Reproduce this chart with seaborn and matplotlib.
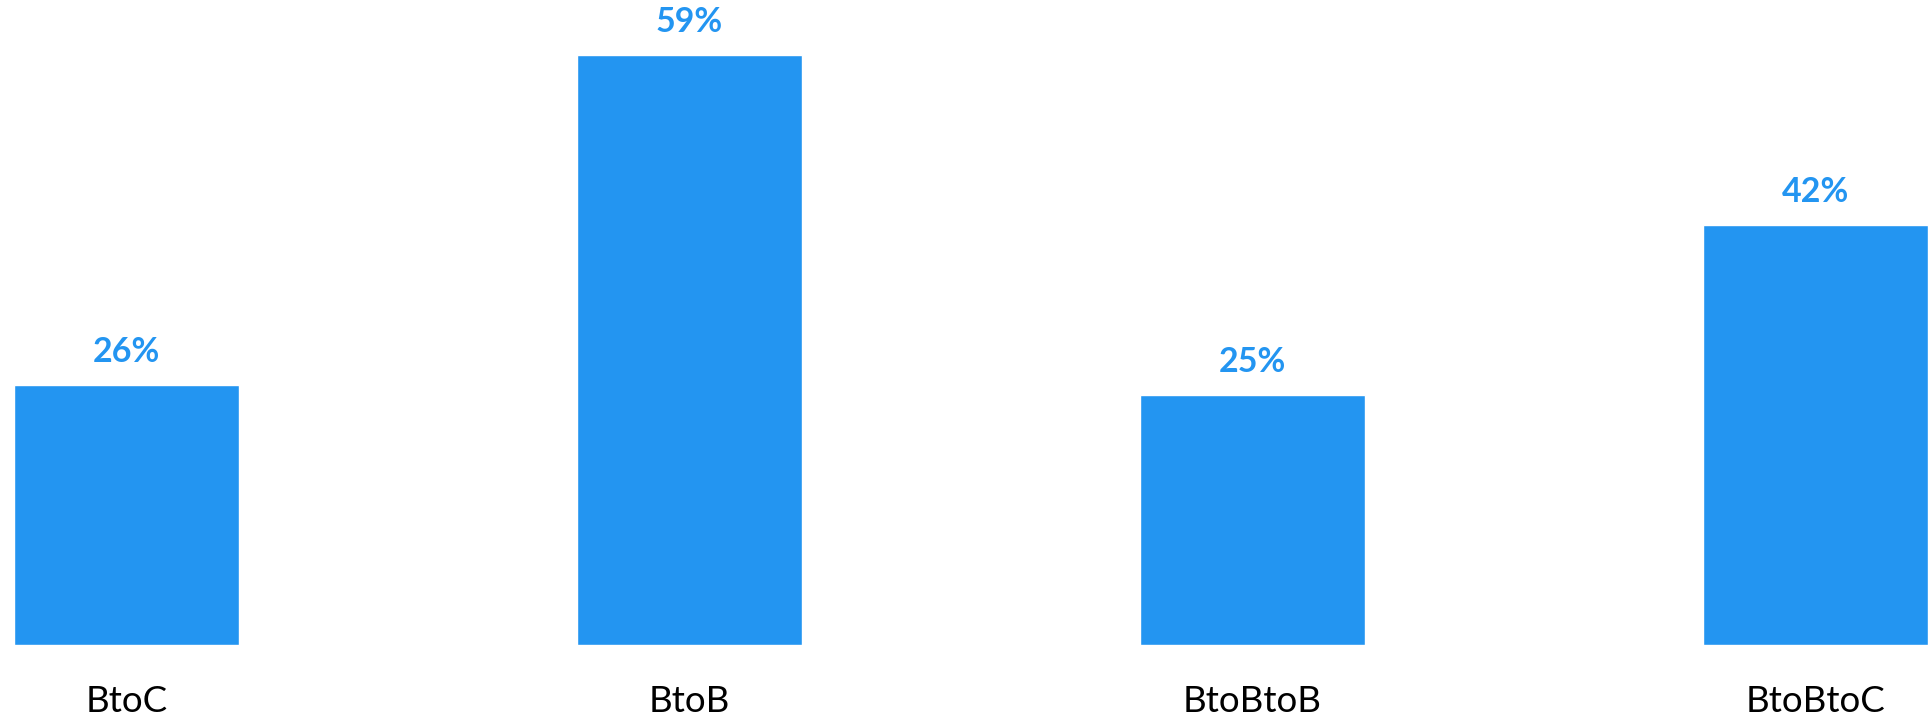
import seaborn as sns
import matplotlib.pyplot as plt
import pandas as pd

sns.set_style("white")
plt.rcParams["font.family"] = ["Lato", "DejaVu Sans"]

# ---- data ----
channels = ["BtoC", "BtoB", "BtoBtoB", "BtoBtoC"]
shares = [26, 59, 25, 42]
bar_color = "#2395F1"

df = pd.DataFrame({"channel": channels, "share": shares})

fig = plt.figure(figsize=(19.31, 7.20), dpi=100)
ax = fig.add_axes([0, 75 / 720, 1, 645 / 720])

sns.barplot(data=df, x="channel", y="share", color=bar_color,
            width=0.4, saturation=1, ax=ax)

for c in ax.containers:
    ax.bar_label(c, labels=[f"{v}%" for v in shares], padding=12,
                 fontsize=24.5, fontweight="bold", color=bar_color)

ax.set_xlim(-0.2247, 3.205)
ax.set_ylim(0, 64.5)
ax.set_xlabel("")
ax.set_ylabel("")
ax.set_yticks([])
ax.tick_params(axis="x", length=0, pad=29, labelsize=26.5, labelcolor="black")
sns.despine(ax=ax, left=True, bottom=True)

fig.savefig("out.png", dpi=100)
plt.close()
